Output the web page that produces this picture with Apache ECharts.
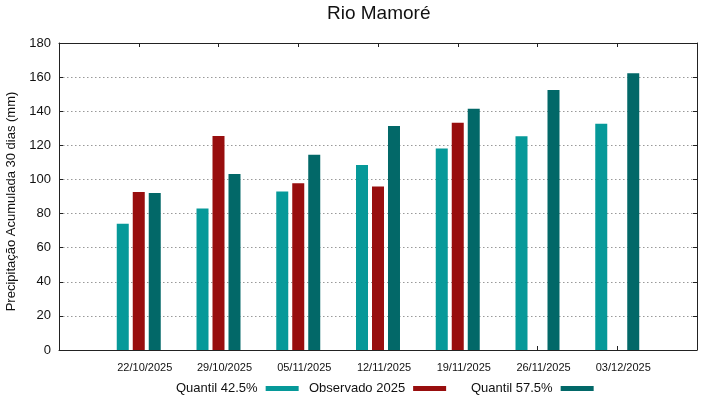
<!DOCTYPE html>
<html>
<head>
<meta charset="utf-8">
<script src="https://cdn.jsdelivr.net/npm/echarts@6/dist/echarts.min.js"></script>
<style>html,body{margin:0;padding:0;background:#fff}#c{width:719px;height:399px}</style>
</head>
<body>
<div id="c"></div>
<script>
const categories = ['22/10/2025','29/10/2025','05/11/2025','12/11/2025','19/11/2025','26/11/2025','03/12/2025'];
const quantil425 = [74, 83, 93, 108.5, 118.2, 125.3, 132.7];
const observado2025 = [92.6, 125.5, 97.7, 95.8, 133.3, null, null];
const quantil575 = [92, 103.2, 114.5, 131.3, 141.5, 152.4, 162.2];
const yTicks = [0, 20, 40, 60, 80, 100, 120, 140, 160, 180];

const toPairs = arr => arr.map((v, i) => v == null ? null : [i, v]).filter(p => p);
const font = 'Liberation Sans, Arial, sans-serif';
const axisColor = '#222';
const catIdx = categories.map((c, i) => i);

const chart = echarts.init(document.getElementById('c'), null, {renderer: 'canvas'});
chart.setOption({
  animation: false,
  backgroundColor: '#fff',
  title: {
    text: 'Rio Mamoré', left: 327, top: 4, padding: 0,
    textStyle: {fontFamily: font, fontSize: 19, fontWeight: 'normal', color: '#111'}
  },
  grid: {left: 59, right: 22, top: 43, bottom: 49, containLabel: false, outerBoundsMode: 'none'},
  legend: [
    {data: ['Quantil 42.5%'], left: 176, top: 382, padding: 0, align: 'right', icon: 'rect', itemWidth: 33, itemHeight: 5,
     textStyle: {fontFamily: font, fontSize: 13, color: '#111', padding: [0, 3, 0, 0]}},
    {data: ['Observado 2025'], left: 309, top: 382, padding: 0, align: 'right', icon: 'rect', itemWidth: 33, itemHeight: 5,
     textStyle: {fontFamily: font, fontSize: 13, color: '#111', padding: [0, 3, 0, 0]}},
    {data: ['Quantil 57.5%'], left: 471, top: 382, padding: 0, align: 'right', icon: 'rect', itemWidth: 33, itemHeight: 5,
     textStyle: {fontFamily: font, fontSize: 13, color: '#111', padding: [0, 3, 0, 0]}}
  ],
  xAxis: [
    {
      type: 'value', min: -1, max: 7, interval: 1, position: 'bottom',
      axisLine: {show: true, onZero: false, lineStyle: {color: axisColor, width: 1}},
      axisTick: {show: true, inside: true, length: 4, lineStyle: {color: axisColor}, customValues: catIdx},
      axisLabel: {
        fontFamily: font, fontSize: 11, color: '#111', margin: 12, padding: [0, 0, 0, 12],
        customValues: catIdx,
        formatter: v => categories[v] || ''
      },
      splitLine: {show: false}
    },
    {
      type: 'value', min: -1, max: 7, interval: 1, position: 'top',
      axisLine: {show: true, onZero: false, lineStyle: {color: axisColor, width: 1}},
      axisTick: {show: true, inside: true, length: 4, lineStyle: {color: axisColor}, customValues: catIdx},
      axisLabel: {show: false},
      splitLine: {show: false}
    }
  ],
  yAxis: [
    {
      type: 'value', min: 0, max: 180, interval: 20, position: 'left',
      name: 'Precipitação Acumulada 30 dias (mm)', nameLocation: 'middle', nameGap: 29,
      nameTextStyle: {fontFamily: font, fontSize: 13, color: '#111', padding: [0, 10, 0, 0]},
      axisLine: {show: true, onZero: false, lineStyle: {color: axisColor, width: 1}},
      axisTick: {show: true, inside: true, length: 4, lineStyle: {color: axisColor}},
      axisLabel: {fontFamily: font, fontSize: 13, color: '#111', margin: 8, customValues: yTicks},
      splitLine: {show: true, lineStyle: {color: '#999', type: [1.5, 2.5], width: 1}}
    },
    {
      type: 'value', min: 0, max: 180, interval: 20, position: 'right',
      axisLine: {show: true, onZero: false, lineStyle: {color: axisColor, width: 1}},
      axisTick: {show: true, inside: true, length: 4, lineStyle: {color: axisColor}},
      axisLabel: {show: false},
      splitLine: {show: false}
    }
  ],
  series: [
    {name: 'Quantil 42.5%', type: 'bar', data: toPairs(quantil425), barWidth: 12, barGap: '33.3%',
     itemStyle: {color: '#069999'}},
    {name: 'Observado 2025', type: 'bar', data: toPairs(observado2025), barWidth: 12, barGap: '33.3%',
     itemStyle: {color: '#980e0e'}},
    {name: 'Quantil 57.5%', type: 'bar', data: toPairs(quantil575), barWidth: 12, barGap: '33.3%',
     itemStyle: {color: '#026868'}}
  ]
});
</script>
</body>
</html>
